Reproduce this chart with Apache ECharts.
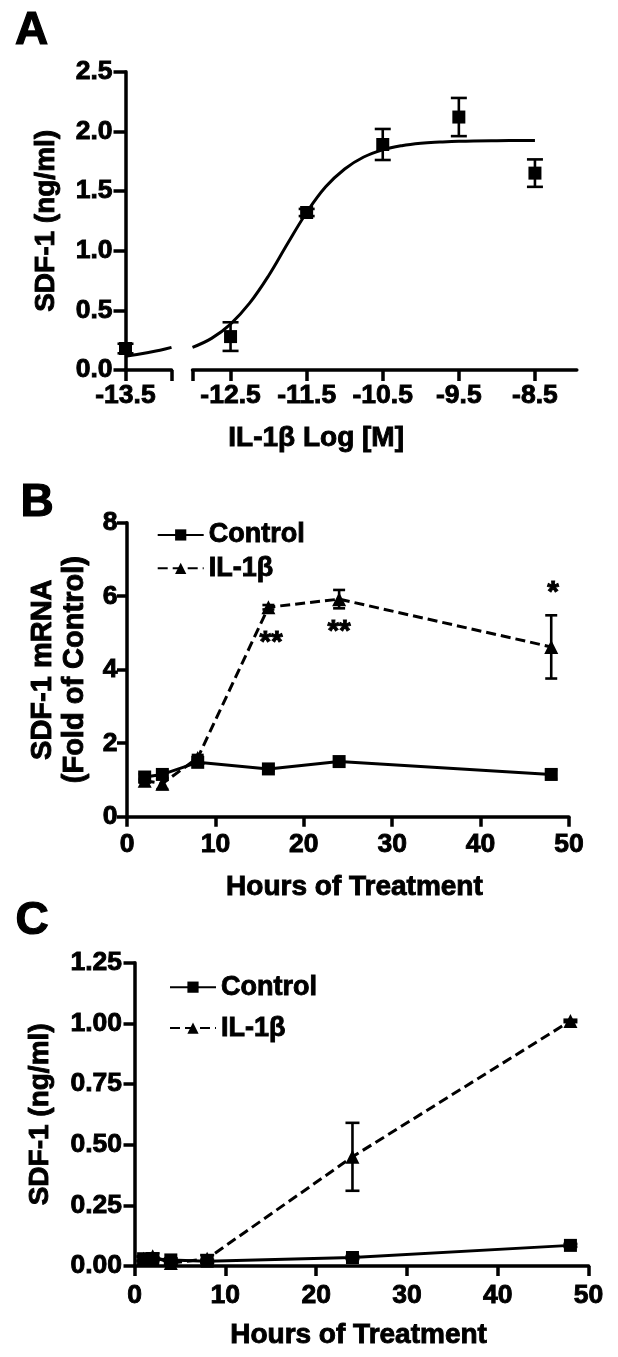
<!DOCTYPE html>
<html>
<head>
<meta charset="utf-8">
<script src="https://cdn.jsdelivr.net/npm/echarts@6/dist/echarts.min.js"></script>
<style>
html,body{margin:0;padding:0;background:#fff;}
#chart{width:618px;height:1357px;}
</style>
</head>
<body>
<div id="chart"></div>
<script>
// ---------- Panel A : dose response ----------
const aDose = [-13.5, -12.5, -11.5, -10.5, -9.5, -8.5];
const aMean = [0.18, 0.28, 1.32, 1.89, 2.12, 1.65];
const aSem  = [0.04, 0.12, 0.03, 0.13, 0.16, 0.115];
const aFitLeftX = [-13.5, -13.375, -13.25, -13.125, -13.0];
const aFitLeftY = [0.115, 0.13, 0.147, 0.166, 0.19];
const aFitX = [-13.0, -12.75, -12.5, -12.25, -12.0, -11.75, -11.5, -11.25, -11.0, -10.75, -10.5, -10.25, -10.0, -9.75, -9.5, -9.0, -8.5];
const aFitY = [0.19, 0.265, 0.385, 0.56, 0.79, 1.06, 1.32, 1.535, 1.685, 1.785, 1.845, 1.88, 1.9, 1.91, 1.917, 1.922, 1.924];
const aLeftTicks = [-13.5];
const aRightTicks = [-12.5, -11.5, -10.5, -9.5, -8.5];
const aBreakLeft = -13.0;   // end of the short left segment
const aBreakRight = -13.0;  // start of the long right segment

// ---------- Panel B : mRNA time course ----------
const bHours = [2, 4, 8, 16, 24, 48];
const bCtrlMean = [1.08, 1.15, 1.48, 1.30, 1.50, 1.15];
const bCtrlSem  = [0.08, 0.10, 0.06, 0.05, 0.05, 0.12];
const bIlMean = [0.98, 0.90, 1.60, 5.70, 5.92, 4.62];
const bIlSem  = [0.05, 0.15, 0.08, 0.06, 0.25, 0.86];
const bStarX = [16.3, 24, 48.2];
const bStarY = [4.9, 5.2, 6.26];
const bStarText = ['**', '**', '*'];

// ---------- Panel C : protein time course ----------
const cHours = [1, 2, 4, 8, 24, 48];
const cCtrlMean = [0.03, 0.03, 0.025, 0.02, 0.035, 0.085];
const cCtrlSem  = [0.008, 0.008, 0.006, 0.006, 0.006, 0.006];
const cIlMean = [0.03, 0.04, 0.012, 0.03, 0.45, 1.01];
const cIlSem  = [0.01, 0.012, 0.005, 0.015, 0.14, 0.005];

const seriesNames = ['Control', 'IL-1\u03b2'];

// ---------- helpers ----------
const FONT = 'Liberation Sans';
const BLACK = '#000';
const AXW = 3.5;
const LW = 3;
const TB = 0.9; // slight text stroke for heavier glyphs

function pairs(xs, ys) { return xs.map((x, i) => [x, ys[i]]); }
function errData(xs, m, s) { return xs.map((x, i) => [x, m[i] - s[i], m[i] + s[i]]); }
function errBar(cap, lw) {
  return function (params, api) {
    const x = api.value(0), lo = api.value(1), hi = api.value(2);
    const t = api.coord([x, hi]), b = api.coord([x, lo]);
    const st = { stroke: BLACK, lineWidth: lw };
    return { type: 'group', children: [
      { type: 'line', shape: { x1: t[0], y1: t[1], x2: b[0], y2: b[1] }, style: st },
      { type: 'line', shape: { x1: t[0] - cap, y1: t[1], x2: t[0] + cap, y2: t[1] }, style: st },
      { type: 'line', shape: { x1: b[0] - cap, y1: b[1], x2: b[0] + cap, y2: b[1] }, style: st }
    ] };
  };
}
function errSeries(xi, data, cap) {
  return { type: 'custom', xAxisIndex: xi, yAxisIndex: xi, data: data, encode: { x: 0, y: [1, 2] },
    renderItem: errBar(cap, 2.6), clip: false, silent: true, z: 3 };
}
function lbl(extra) {
  return Object.assign({ color: BLACK, fontFamily: FONT, fontWeight: 'bold', fontSize: 26.5,
    textBorderColor: BLACK, textBorderWidth: TB }, extra);
}
function tick(len, extra) {
  return Object.assign({ show: true, length: len, lineStyle: { color: BLACK, width: AXW } }, extra);
}
function axisBase(extra) {
  return Object.assign({
    type: 'value',
    axisLine: { show: true, lineStyle: { color: BLACK, width: AXW } },
    axisTick: tick(11),
    axisLabel: lbl({}),
    splitLine: { show: false }
  }, extra);
}
const xNameStyle = { color: BLACK, fontFamily: FONT, fontWeight: 'bold', fontSize: 28, textBorderColor: BLACK, textBorderWidth: TB };
const yNameStyle = { color: BLACK, fontFamily: FONT, fontWeight: 'bold', fontSize: 28, textBorderColor: BLACK, textBorderWidth: TB };
const letterStyle = { fontFamily: FONT, fontWeight: 'bold', fontSize: 46, color: BLACK, textBorderColor: BLACK, textBorderWidth: 1.2 };
const legendText = { color: BLACK, fontFamily: FONT, fontWeight: 'bold', fontSize: 27, textBorderColor: BLACK, textBorderWidth: TB };

const aLeftIdx = aDose.map((d, i) => i).filter(i => aDose[i] < aBreakRight);
const aRightIdx = aDose.map((d, i) => i).filter(i => aDose[i] >= aBreakRight);
const pick = (arr, idx) => idx.map(i => arr[i]);

const chart = echarts.init(document.getElementById('chart'), null, { renderer: 'canvas' });

const option = {
  animation: false,
  backgroundColor: '#fff',
  title: [
    { text: 'A', left: 15, top: 8.6, padding: 0, textStyle: letterStyle },
    { text: 'B', left: 20.5, top: 480.6, padding: 0, textStyle: letterStyle },
    { text: 'C', left: 15.4, top: 898.6, padding: 0, textStyle: letterStyle }
  ],
  legend: [
    { data: seriesNames, orient: 'vertical', left: 156.7, top: 521, itemWidth: 46, itemHeight: 14, itemGap: 5.5,
      padding: 0, selectedMode: false, textStyle: legendText },
    { data: seriesNames, orient: 'vertical', left: 169, top: 973.2, itemWidth: 46, itemHeight: 14, itemGap: 13,
      padding: 0, selectedMode: false, textStyle: legendText }
  ],
  grid: [
    { left: 125.5, top: 71.7, width: 46, height: 298.3, containLabel: false, outerBoundsMode: 'none' },
    { left: 192.5, top: 71.7, width: 384.3, height: 298.3, containLabel: false, outerBoundsMode: 'none' },
    { left: 127, top: 522.7, width: 441.9, height: 294, containLabel: false, outerBoundsMode: 'none' },
    { left: 134.5, top: 962.7, width: 454.1, height: 303.3, containLabel: false, outerBoundsMode: 'none' }
  ],
  xAxis: [
    axisBase({ gridIndex: 0, min: aDose[0], max: aBreakLeft,
      axisTick: tick(11, { customValues: [aDose[0], aBreakLeft] }),
      axisLabel: lbl({ margin: 12, customValues: aLeftTicks, formatter: v => Number(v).toFixed(1) }) }),
    axisBase({ gridIndex: 1, min: aBreakRight, max: -7.95,
      axisTick: tick(11, { customValues: [aBreakRight].concat(aRightTicks) }),
      axisLabel: lbl({ margin: 12, customValues: aRightTicks, formatter: v => Number(v).toFixed(1) }),
      name: 'IL-1\u03b2 Log [M]', nameLocation: 'middle', nameGap: 54.5,
      nameTextStyle: Object.assign({ padding: [0, 137, 0, 0] }, xNameStyle) }),
    axisBase({ gridIndex: 2, min: 0, max: 50, interval: 10,
      axisTick: tick(10),
      axisLabel: lbl({ margin: 14.2 }),
      name: 'Hours of Treatment', nameLocation: 'middle', nameGap: 56.7,
      nameTextStyle: Object.assign({ padding: [0, 0, 0, 13] }, xNameStyle) }),
    axisBase({ gridIndex: 3, min: 0, max: 50, interval: 10,
      axisTick: tick(10),
      axisLabel: lbl({ margin: 16.5 }),
      name: 'Hours of Treatment', nameLocation: 'middle', nameGap: 55,
      nameTextStyle: Object.assign({ padding: [0, 6, 0, 0] }, xNameStyle) })
  ],
  yAxis: [
    axisBase({ gridIndex: 0, min: 0, max: 2.5, interval: 0.5,
      axisTick: tick(12),
      axisLabel: lbl({ margin: 13, formatter: v => v.toFixed(1) }),
      name: 'SDF-1 (ng/ml)', nameLocation: 'middle', nameRotate: 90, nameGap: 65.5, nameTextStyle: yNameStyle }),
    axisBase({ gridIndex: 1, min: 0, max: 2.5, interval: 0.5, show: false }),
    axisBase({ gridIndex: 2, min: 0, max: 8, interval: 2,
      axisTick: tick(10),
      axisLabel: lbl({ margin: 9.5 }),
      name: 'SDF-1 mRNA\n(Fold of Control)', nameLocation: 'middle', nameRotate: 90, nameGap: 33.5,
      nameTextStyle: Object.assign({}, yNameStyle, { fontSize: 29, lineHeight: 32 }) }),
    axisBase({ gridIndex: 3, min: 0, max: 1.25, interval: 0.25,
      axisTick: tick(11),
      axisLabel: lbl({ margin: 12.5, formatter: v => v.toFixed(2) }),
      name: 'SDF-1 (ng/ml)', nameLocation: 'middle', nameRotate: 90, nameGap: 80, nameTextStyle: yNameStyle })
  ],
  series: [
    // ----- A -----
    { type: 'line', xAxisIndex: 0, yAxisIndex: 0, data: pairs(aFitLeftX, aFitLeftY), smooth: 0.4, symbol: 'none',
      lineStyle: { color: BLACK, width: LW }, clip: false, silent: true, z: 2 },
    { type: 'line', xAxisIndex: 1, yAxisIndex: 1, data: pairs(aFitX, aFitY), smooth: 0.4, symbol: 'none',
      lineStyle: { color: BLACK, width: LW }, clip: false, silent: true, z: 2 },
    errSeries(0, errData(pick(aDose, aLeftIdx), pick(aMean, aLeftIdx), pick(aSem, aLeftIdx)), 8),
    errSeries(1, errData(pick(aDose, aRightIdx), pick(aMean, aRightIdx), pick(aSem, aRightIdx)), 8),
    { type: 'scatter', xAxisIndex: 0, yAxisIndex: 0, data: pairs(pick(aDose, aLeftIdx), pick(aMean, aLeftIdx)),
      symbol: 'rect', symbolSize: 13, itemStyle: { color: BLACK, opacity: 1 }, clip: false, z: 4 },
    { type: 'scatter', xAxisIndex: 1, yAxisIndex: 1, data: pairs(pick(aDose, aRightIdx), pick(aMean, aRightIdx)),
      symbol: 'rect', symbolSize: 13, itemStyle: { color: BLACK, opacity: 1 }, clip: false, z: 4 },
    // ----- B -----
    { name: seriesNames[0], type: 'line', xAxisIndex: 2, yAxisIndex: 2, data: pairs(bHours, bCtrlMean),
      symbol: 'rect', symbolSize: 13, showAllSymbol: true, itemStyle: { color: BLACK, opacity: 1 },
      lineStyle: { color: BLACK, width: LW, type: 'solid' }, clip: false, z: 4 },
    { name: seriesNames[1], type: 'line', xAxisIndex: 2, yAxisIndex: 2, data: pairs(bHours, bIlMean),
      symbol: 'triangle', symbolSize: 14, showAllSymbol: true, itemStyle: { color: BLACK, opacity: 1 },
      lineStyle: { color: BLACK, width: LW, type: [10, 5] }, clip: false, z: 4 },
    errSeries(2, errData(bHours, bCtrlMean, bCtrlSem), 6),
    errSeries(2, errData(bHours, bIlMean, bIlSem), 6),
    { type: 'scatter', xAxisIndex: 2, yAxisIndex: 2, data: bStarX.map((x, i) => [x, bStarY[i], bStarText[i]]),
      symbolSize: 0, silent: true, clip: false, itemStyle: { opacity: 1 },
      label: { show: true, position: 'inside', formatter: p => p.value[2], offset: [0, 6.5],
        color: BLACK, opacity: 1, fontFamily: FONT, fontWeight: 'bold', fontSize: 30, textBorderColor: BLACK, textBorderWidth: TB } },
    // ----- C -----
    { name: seriesNames[0], type: 'line', xAxisIndex: 3, yAxisIndex: 3, data: pairs(cHours, cCtrlMean),
      symbol: 'rect', symbolSize: 13, showAllSymbol: true, itemStyle: { color: BLACK, opacity: 1 },
      lineStyle: { color: BLACK, width: LW, type: 'solid' }, clip: false, z: 4 },
    { name: seriesNames[1], type: 'line', xAxisIndex: 3, yAxisIndex: 3, data: pairs(cHours, cIlMean),
      symbol: 'triangle', symbolSize: 14, showAllSymbol: true, itemStyle: { color: BLACK, opacity: 1 },
      lineStyle: { color: BLACK, width: LW, type: [10, 5] }, clip: false, z: 4 },
    errSeries(3, errData(cHours, cCtrlMean, cCtrlSem), 7),
    errSeries(3, errData(cHours, cIlMean, cIlSem), 7)
  ]
};
chart.setOption(option);
</script>
</body>
</html>
